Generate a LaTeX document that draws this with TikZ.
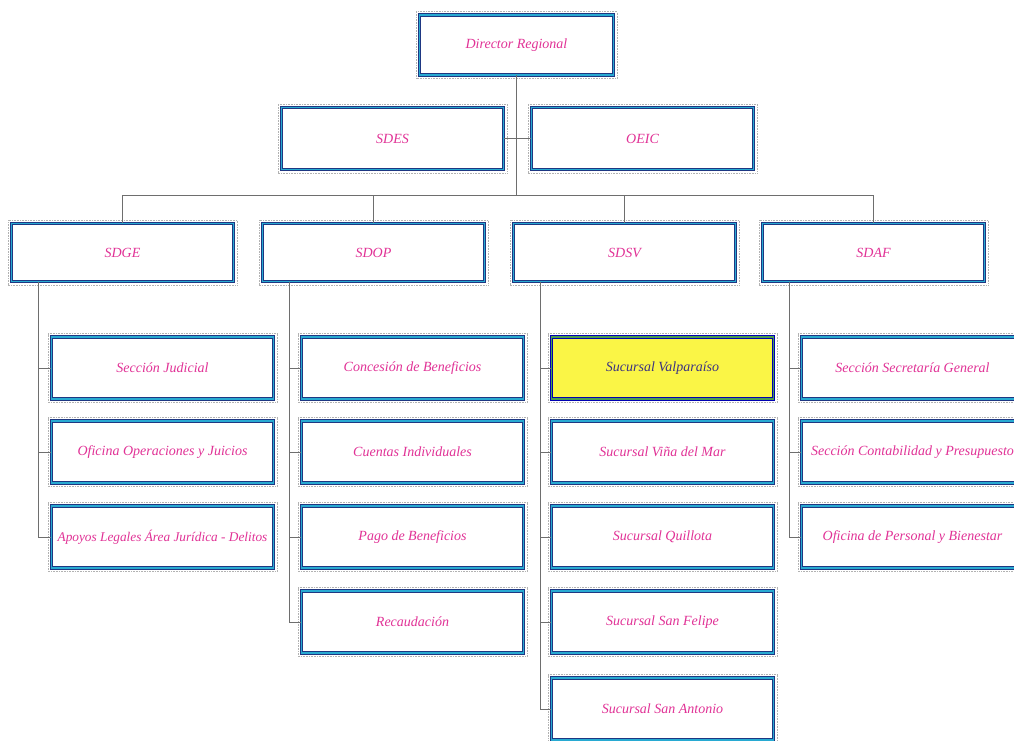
\documentclass[tikz,border=0pt]{standalone}
\usepackage{fontspec}
\setmainfont{Liberation Serif}
\usetikzlibrary{calc}
\definecolor{navy}{RGB}{30,55,130}
\definecolor{cyanb}{RGB}{40,170,210}
\definecolor{txt}{RGB}{225,50,150}
\definecolor{ylw}{RGB}{250,245,70}
\definecolor{ytxt}{RGB}{60,50,130}
\definecolor{ln}{RGB}{110,110,110}
\tikzset{
  box/.style={draw=navy, line width=0.9pt, double=cyanb, double distance=1.3pt,
    fill=white, minimum width=#1, minimum height=62pt, inner sep=0pt,
    font=\fontsize{14}{16}\selectfont\itshape, text=txt},
  box/.default=222pt,
  hl/.style={box, fill=ylw, text=ytxt, double=green!45!black!70, draw=blue!70!black},
  conn/.style={draw=ln, line width=0.6pt},
  frame/.style={draw=gray!60, line width=0.6pt, densely dotted}
}
\begin{document}
\begin{tikzpicture}[x=1pt,y=-1pt]
\useasboundingbox (0,0) rectangle (1014,740);
\fill[white] (0,0) rectangle (1014,740);
% level 0
\node[box=194pt, minimum height=60pt] (dir) at (516.5,45) {Director Regional};
% staff
\node[box] (sdes) at (392.5,138.5) {SDES};
\node[box] (oeic) at (642.5,138.5) {OEIC};
% level 1
\node[box, minimum height=58pt] (sdge) at (122.5,252.5) {SDGE};
\node[box, minimum height=58pt] (sdop) at (373.5,252.5) {SDOP};
\node[box, minimum height=58pt] (sdsv) at (624.5,252.5) {SDSV};
\node[box, minimum height=58pt] (sdaf) at (873.5,252.5) {SDAF};
% SDGE children
\node[box] (g1) at (162.5,368) {Sección Judicial};
\node[box] (g2) at (162.5,452) {Oficina Operaciones y Juicios};
\node[box, font=\fontsize{13.3}{16}\selectfont\itshape] (g3) at (162.5,537) {Apoyos Legales Área Jurídica - Delitos};
% SDOP children
\node[box] (p1) at (412.5,368) {Concesión de Beneficios};
\node[box] (p2) at (412.5,452) {Cuentas Individuales};
\node[box] (p3) at (412.5,537) {Pago de Beneficios};
\node[box] (p4) at (412.5,622) {Recaudación};
% SDSV children
\node[hl] (s1) at (662.5,368) {Sucursal Valparaíso};
\node[box] (s2) at (662.5,452) {Sucursal Viña del Mar};
\node[box] (s3) at (662.5,537) {Sucursal Quillota};
\node[box] (s4) at (662.5,622) {Sucursal San Felipe};
\node[box] (s5) at (662.5,709) {Sucursal San Antonio};
% SDAF children
\node[box] (a1) at (912.5,368) {Sección Secretaría General};
\node[box] (a2) at (912.5,452) {Sección Contabilidad y Presupuesto};
\node[box] (a3) at (912.5,537) {Oficina de Personal y Bienestar};
% outer dotted frames
\foreach \n in {dir,sdes,oeic,sdge,sdop,sdsv,sdaf,g1,g2,g3,p1,p2,p3,p4,s1,s2,s3,s4,s5,a1,a2,a3}
  \draw[frame] ($(\n.south west)+(-3,3)$) rectangle ($(\n.north east)+(3,-3)$);
% connectors
\coordinate (bus) at (516.5,195);
\coordinate (busL) at (122.5,195);
\coordinate (busR) at (873.5,195);
\draw[conn] (dir.south) -- (bus);
\draw[conn] (busL) -- (busR);
\draw[conn] (sdes.east) -- (oeic.west);
\draw[conn] (busL) -- (sdge.north);
\draw[conn] (sdop.north |- bus) -- (sdop.north);
\draw[conn] (sdsv.north |- bus) -- (sdsv.north);
\draw[conn] (busR) -- (sdaf.north);
\coordinate (gv) at ([xshift=27pt]sdge.south west);
\coordinate (pv) at ([xshift=27pt]sdop.south west);
\coordinate (sv) at ([xshift=27pt]sdsv.south west);
\coordinate (av) at ([xshift=27pt]sdaf.south west);
\draw[conn] (gv) |- (g1.west);
\draw[conn] (gv) |- (g2.west);
\draw[conn] (gv) |- (g3.west);
\draw[conn] (pv) |- (p1.west);
\draw[conn] (pv) |- (p2.west);
\draw[conn] (pv) |- (p3.west);
\draw[conn] (pv) |- (p4.west);
\draw[conn] (sv) |- (s1.west);
\draw[conn] (sv) |- (s2.west);
\draw[conn] (sv) |- (s3.west);
\draw[conn] (sv) |- (s4.west);
\draw[conn] (sv) |- (s5.west);
\draw[conn] (av) |- (a1.west);
\draw[conn] (av) |- (a2.west);
\draw[conn] (av) |- (a3.west);
\end{tikzpicture}
\end{document}
